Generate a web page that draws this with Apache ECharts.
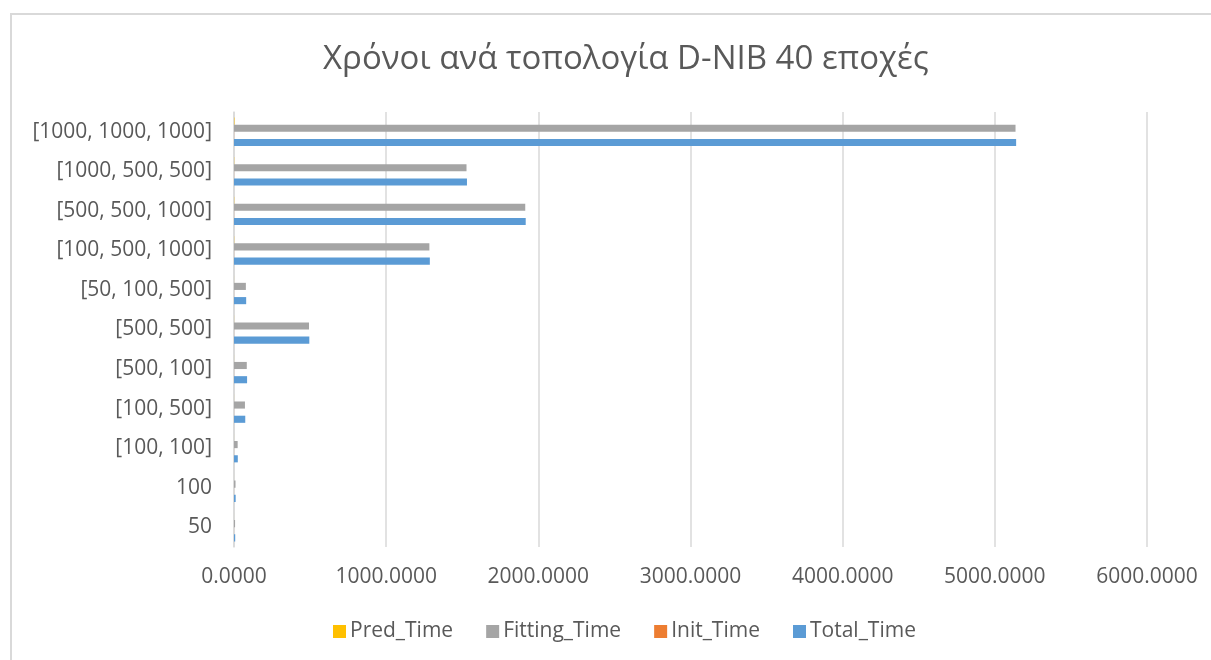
<!DOCTYPE html>
<html>
<head>
<meta charset="utf-8">
<script src="https://cdn.jsdelivr.net/npm/echarts@6/dist/echarts.min.js"></script>
<style>
  html, body { margin: 0; padding: 0; background: #fff; }
  #main { width: 1211px; height: 660px; }
</style>
</head>
<body>
<div id="main"></div>
<script>
// categories, bottom to top
const categories = ['50', '100', '[100, 100]', '[100, 500]', '[500, 100]', '[500, 500]',
    '[50, 100, 500]', '[100, 500, 1000]', '[500, 500, 1000]', '[1000, 500, 500]', '[1000, 1000, 1000]'];
const predTime = [0.1, 0.1, 0.2, 0.3, 0.3, 0.5, 0.3, 1.2, 1.5, 1.3, 3.0];
const fittingTime = [7, 10, 24, 72, 84, 493, 78, 1284, 1914, 1528, 5136];
const initTime = [0.2, 0.2, 0.3, 0.3, 0.3, 0.4, 0.3, 0.5, 0.5, 0.5, 0.6];
const totalTime = [8, 11, 25, 74, 86, 495, 80, 1287, 1917, 1531, 5140];
const xTicks = { min: 0, max: 6000, interval: 1000 };

const FONT = 'Open Sans';
const TXT = '#595959';

var myChart = echarts.init(document.getElementById('main'));
myChart.setOption({
    animation: false,
    backgroundColor: '#fff',
    textStyle: { fontFamily: FONT },
    title: {
        text: 'Χρόνοι ανά τοπολογία D-NIB 40 εποχές',
        left: 318,
        top: 38,
        textStyle: { fontFamily: FONT, fontSize: 33, fontWeight: 'normal', color: TXT }
    },
    graphic: [
        {
            type: 'rect',
            shape: { x: 11, y: 14, width: 1400, height: 900 },
            style: { fill: 'none', stroke: '#d9d9d9', lineWidth: 2 },
            silent: true
        }
    ],
    legend: {
        bottom: 13,
        left: 328,
        itemWidth: 13,
        itemHeight: 13,
        itemGap: 33,
        icon: 'rect',
        data: ['Pred_Time', 'Fitting_Time', 'Init_Time', 'Total_Time'],
        textStyle: { fontFamily: FONT, fontSize: 21, color: TXT, padding: [0, 0, 0, -1] }
    },
    grid: { left: 234, right: 64, top: 112, bottom: 113, containLabel: false },
    xAxis: {
        type: 'value',
        min: xTicks.min,
        max: xTicks.max,
        interval: xTicks.interval,
        axisLine: { show: false },
        axisTick: { show: false },
        splitLine: { lineStyle: { color: '#d9d9d9', width: 1.5 } },
        axisLabel: {
            fontFamily: FONT, fontSize: 21, color: TXT, margin: 20,
            formatter: v => v.toFixed(4)
        }
    },
    yAxis: {
        type: 'category',
        data: categories,
        axisLine: { show: true, lineStyle: { color: '#d9d9d9', width: 1.5 } },
        axisTick: { show: false },
        axisLabel: { fontFamily: FONT, fontSize: 21, color: TXT, margin: 22 }
    },
    series: [
        { name: 'Pred_Time', type: 'bar', data: predTime, itemStyle: { color: '#ffc000' }, barGap: '0%', barCategoryGap: '28%' },
        { name: 'Fitting_Time', type: 'bar', data: fittingTime, itemStyle: { color: '#a5a5a5' } },
        { name: 'Init_Time', type: 'bar', data: initTime, itemStyle: { color: '#ed7d31' } },
        { name: 'Total_Time', type: 'bar', data: totalTime, itemStyle: { color: '#5b9bd5' } }
    ]
});
</script>
</body>
</html>
